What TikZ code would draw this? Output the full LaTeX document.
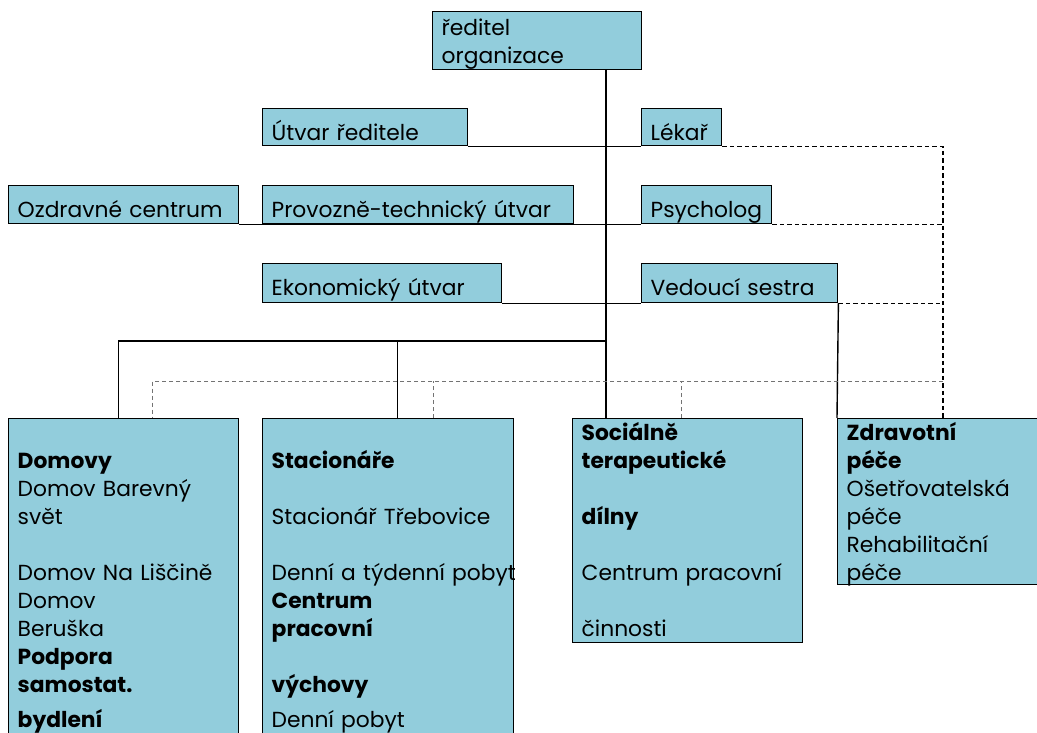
\documentclass[tikz,border=0pt]{standalone}
\usepackage{fontspec}
\setmainfont{Poppins}
\definecolor{boxblue}{HTML}{92CDDC}
\tikzset{
  unit/.style={draw, fill=boxblue, line width=1.4pt, anchor=north west, align=left,
    inner xsep=9pt, inner ysep=0pt, font=\fontsize{21.8}{28}\selectfont},
  rowa/.style={text height=31.5pt, text depth=5.5pt},
  rowb/.style={text height=31.5pt, text depth=6.5pt},
  rowc/.style={text height=31.5pt, text depth=7.5pt},
  tie/.style={line width=1.4pt},
  link/.style={line width=1.3pt, dash pattern=on 4.5pt off 3pt},
  thinlink/.style={black!55, line width=0.9pt, dash pattern=on 4pt off 3pt},
}
\begin{document}
\begin{tikzpicture}[x=1pt, y=-1pt]
\useasboundingbox (0,0) rectangle (1037,733);
% top
\node[unit, text width=191pt, text height=23.5pt, text depth=34.5pt] (chief) at (432,11) {ředitel\\organizace};
\node[unit, text width=187pt, rowa] (utvar) at (262,108) {Útvar ředitele};
\node[unit, text width=62pt, rowa] (lekar) at (641,108) {Lékař};
\node[unit, text width=212pt, rowb] (ozdrav) at (8,185) {Ozdravné centrum};
\node[unit, text width=293pt, rowb] (provoz) at (262,185) {Provozně-technický útvar};
\node[unit, text width=112pt, rowb] (psych) at (641,185) {Psycholog};
\node[unit, text width=221pt, rowc] (ekon) at (262,263) {Ekonomický útvar};
\node[unit, text width=178pt, rowc] (vedouci) at (641,263) {Vedoucí sestra};
% departments
\node[unit, text width=212pt, text height=22pt, text depth=310pt] (domovy) at (8,418)
  {\mbox{}\\ \textbf{Domovy}\\ Domov Barevný\\ svět\\ \mbox{}\\ \mbox{Domov Na Liščině}\\ Domov\\ Beruška\\
   \textbf{Podpora}\\ \textbf{samostat.}\\[7pt] \textbf{bydlení}};
\node[unit, text width=233pt, text height=22pt, text depth=310pt] (stacionare) at (262,418)
  {\mbox{}\\ \textbf{Stacionáře}\\ \mbox{}\\ Stacionář Třebovice\\ \mbox{}\\ \mbox{Denní a týdenní pobyt}\\
   \textbf{Centrum}\\ \textbf{pracovní}\\ \mbox{}\\ \textbf{výchovy}\\[7pt] Denní pobyt};
\node[unit, text width=212pt, text height=22pt, text depth=202pt] (socialni) at (572,418)
  {\textbf{Sociálně}\\ \textbf{terapeutické}\\ \mbox{}\\ \textbf{dílny}\\ \mbox{}\\ \mbox{Centrum pracovní}\\ \mbox{}\\ činnosti};
\node[unit, text width=190pt, text height=22pt, text depth=144pt] (zdrav) at (837,418)
  {\textbf{Zdravotní}\\ \textbf{péče}\\ Ošetřovatelská\\ péče\\ Rehabilitační\\ péče};
% solid lines
\coordinate (trunk) at (606,341);
\draw[tie] (trunk |- chief.south) -- (trunk |- socialni.north);
\draw[tie] (utvar.south east) -- (lekar.south west);
\draw[tie] (ozdrav.south east) -- (psych.south west);
\draw[tie] (ekon.south east) -- (vedouci.south west);
\draw[tie] (vedouci.south east) -- (zdrav.north west);
\draw[tie] (trunk) -| ([xshift=-5pt]domovy.north);
\draw[tie] ([xshift=9.5pt]stacionare.north) |- (trunk);
% dashed lines
\coordinate (rail) at (943,381);
\draw[link] (lekar.south east) -| (rail |- zdrav.north);
\draw[link] (psych.south east) -- (psych.south east -| rail);
\draw[link] (vedouci.south east) -- (vedouci.south east -| rail);
\draw[thinlink] (rail) -| ([xshift=29pt]domovy.north);
\draw[thinlink] ([xshift=45.5pt]stacionare.north) -- ([xshift=45.5pt]stacionare.north |- rail);
\draw[thinlink] ([xshift=-6pt]socialni.north) -- ([xshift=-6pt]socialni.north |- rail);
\end{tikzpicture}
\end{document}
